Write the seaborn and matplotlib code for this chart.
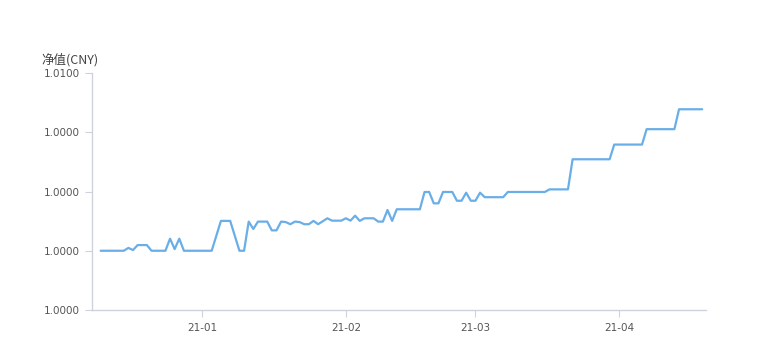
import matplotlib
matplotlib.use("Agg")
import matplotlib.pyplot as plt
import seaborn as sns
import pandas as pd
import numpy as np

# vertex dates (days relative to 2021-01-01) and NAV values
day_offsets = [-22, -17, -16, -15, -14, -12, -11, -8, -7, -6, -5, -4,
               2, 4, 6, 8, 9, 10, 11, 12, 14, 15, 16, 17, 18, 19, 20, 21,
               22, 23, 24, 25, 27, 28, 30, 31, 32, 33, 34, 35, 37, 38, 39,
               40, 41, 42, 47, 48, 49, 50, 51, 52, 54, 55, 56, 57, 58, 59,
               60, 61, 65, 66, 74, 75, 79, 80, 88, 89, 95, 96, 102, 103, 108]
nav_values = [1.00250, 1.00250, 1.00262, 1.00253, 1.00274, 1.00274, 1.00250,
              1.00250, 1.00301, 1.00257, 1.00301, 1.00250,
              1.00250, 1.00376, 1.00376, 1.00250, 1.00250, 1.00373, 1.00342,
              1.00373, 1.00373, 1.00336, 1.00336, 1.00373, 1.00371, 1.00362,
              1.00373, 1.00371, 1.00362, 1.00362, 1.00376, 1.00362, 1.00387,
              1.00377, 1.00377, 1.00387, 1.00377, 1.00398, 1.00376, 1.00387,
              1.00387, 1.00373, 1.00373, 1.00422, 1.00376, 1.00425, 1.00425,
              1.00498, 1.00498, 1.00450, 1.00450, 1.00498, 1.00498, 1.00461,
              1.00461, 1.00495, 1.00461, 1.00461, 1.00495, 1.00476, 1.00476,
              1.00498, 1.00498, 1.00509, 1.00509, 1.00636, 1.00636, 1.00698,
              1.00698, 1.00763, 1.00763, 1.00847, 1.00847]

y_ticks = [1.0000, 1.0025, 1.0050, 1.0075, 1.0100]
y_tick_labels = ["1.0000", "1.0000", "1.0000", "1.0000", "1.0100"]
x_tick_dates = ["2021-01-01", "2021-02-01", "2021-03-01", "2021-04-01"]
x_tick_labels = ["21-01", "21-02", "21-03", "21-04"]
y_title = "净值(CNY)"

base = pd.Timestamp("2021-01-01")
df = pd.DataFrame({
    "date": [base + pd.Timedelta(days=d) for d in day_offsets],
    "nav": nav_values,
})

sns.set_style("white")
plt.rcParams["font.family"] = ["Noto Sans CJK SC", "DejaVu Sans"]

fig = plt.figure(figsize=(7.69, 3.44), dpi=100)
ax = fig.add_axes([0.1196, 0.0988, 0.798, 0.689])

sns.lineplot(data=df, x="date", y="nav", ax=ax, color="#6aaee8", linewidth=1.6)

ax.set_xlim(base + pd.Timedelta(days=-23.87), base + pd.Timedelta(days=108.75))
ax.set_ylim(1.0, 1.01)

ax.set_yticks(y_ticks)
ax.set_yticklabels(y_tick_labels, fontfamily="DejaVu Sans")
ax.set_xticks([pd.Timestamp(d) for d in x_tick_dates])
ax.set_xticklabels(x_tick_labels, fontfamily="DejaVu Sans")

ax.set_xlabel("")
ax.set_ylabel("")

for side in ["top", "right"]:
    ax.spines[side].set_visible(False)
for side in ["left", "bottom"]:
    ax.spines[side].set_color("#cdd2dc")
    ax.spines[side].set_linewidth(1.0)

ax.tick_params(axis="both", which="both", length=5, width=0.8, color="#cdd2dc",
               labelsize=7.5, labelcolor="#555555", pad=4)
ax.tick_params(axis="x", direction="out", bottom=True)
ax.tick_params(axis="y", direction="out", left=True)

fig.text(41 / 769, 1 - 60 / 344, y_title, fontsize=9, color="#444444",
         ha="left", va="center", family=["Noto Sans CJK SC", "DejaVu Sans"])

fig.savefig("out.png", dpi=100)
